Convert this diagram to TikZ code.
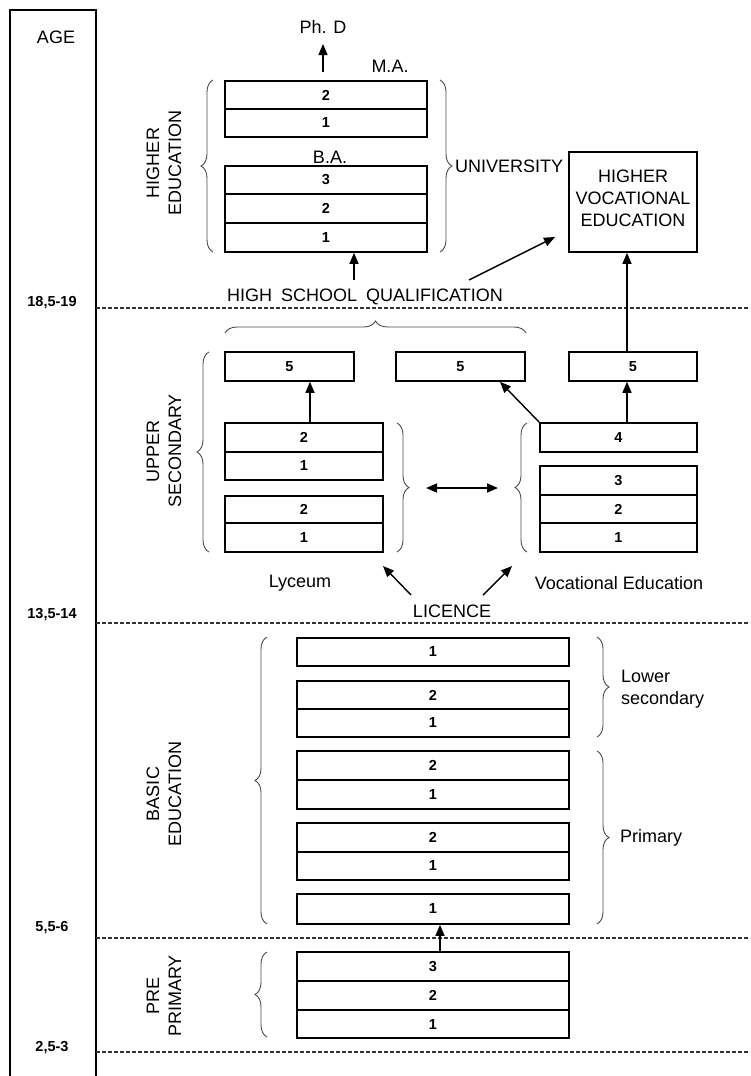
\documentclass[tikz,border=0pt]{standalone}
\usepackage{fontspec}
\setmainfont{Liberation Sans}
\usetikzlibrary{arrows.meta,decorations.pathreplacing}
\newcommand\mkcell[6]{%
  \node[cell, minimum width={(#4-#2)*1pt}, minimum height={(#5-#3)*1pt}] (#1) at ({(#2+#4)/2},{(#3+#5)/2}) {#6};}
\begin{document}
\begin{tikzpicture}[x=1pt,y=-1pt,
  cell/.style={draw,line width=1.6pt,inner sep=0pt,font=\fontsize{14.5}{14.5}\selectfont\bfseries},
  lbl/.style={font=\fontsize{18}{22}\selectfont,inner sep=0pt},
  rot/.style={lbl,rotate=90,align=center},
  age/.style={font=\fontsize{14.5}{14.5}\selectfont\bfseries,inner sep=0pt},
  brc/.style={draw=black!70,line width=0.9pt,decorate,decoration={brace,amplitude=12pt}},
  arr/.style={-{Triangle[length=11pt,width=9pt]},line width=1.4pt},
  darr/.style={{Triangle[length=11pt,width=9pt]}-{Triangle[length=11pt,width=9pt]},line width=1.6pt},
  dline/.style={dash pattern=on 4pt off 2pt,line width=1.1pt,black!80}
]
\useasboundingbox (0,0) rectangle (750,1076);
% age column
\coordinate (colbl) at (10,1076);
\coordinate (coltl) at (10,10);
\coordinate (coltr) at (96,10);
\coordinate (colbr) at (96,1076);
\draw[line width=1.5pt] (colbl) -- (coltl) -- (coltr) -- (colbr);
\node[lbl] (agel) at (56,37) {AGE};
\node[age] (a1) at (52,303) {18,5-19};
\node[age] (a2) at (52,615) {13,5-14};
\node[age] (a3) at (52,928) {5,5-6};
\node[age] (a4) at (52,1048) {2,5-3};
\coordinate (e1) at (750,308);
\coordinate (e2) at (750,623);
\coordinate (e3) at (750,938);
\coordinate (e4) at (750,1052);
\draw[dline] (96,308) -- (e1);
\draw[dline] (96,623) -- (e2);
\draw[dline] (96,938) -- (e3);
\draw[dline] (96,1052) -- (e4);

% higher education
\mkcell{ma2}{225}{81}{427}{109}{2}
\mkcell{ma1}{225}{109}{427}{137}{1}
\mkcell{ba3}{225}{166}{427}{194}{3}
\mkcell{ba2}{225}{194}{427}{223}{2}
\mkcell{ba1}{225}{223}{427}{252}{1}
\node[lbl] (phd) at (323,27) {Ph. D};
\node[lbl] (ma) at (390,66) {M.A.};
\node[lbl] (ba) at (330,157) {B.A.};
\coordinate (phs) at (323,72);
\draw[arr] (phs) -- (phd.south |- 0,44);
\draw[brc] (213,252) -- (213,80);
\draw[brc] (440,80) -- (440,252);
\node[rot] (he) at (164,163) {HIGHER\\EDUCATION};
\node[lbl,anchor=west] (univ) at (455,166) {UNIVERSITY};
\node[draw,line width=1.6pt,minimum width=128pt,minimum height=100pt,inner sep=0pt] (hve) at (633,202) {};
\node[lbl,align=center] (hvet) at (633,198) {HIGHER\\VOCATIONAL\\EDUCATION};
\node[lbl] (hsq) at (365,297) {HIGH\hspace{0.5em}SCHOOL\hspace{0.5em}QUALIFICATION};
\coordinate (hsqa) at (354,280);
\draw[arr] (hsqa) -- (hsqa |- ba1.south);
\coordinate (hsqb) at (469,280);
\coordinate (hsqc) at (555,237);
\draw[arr] (hsqb) -- (hsqc);

% upper secondary
\draw[brc] (225,333) -- (526,333);
\mkcell{fa}{225}{352}{354}{381}{5}
\mkcell{fb}{396}{352}{525}{381}{5}
\mkcell{fc}{569}{352}{697}{381}{5}
\draw[arr] (fc.north -| 627,0) -- (hve.south -| 627,0);
\mkcell{ly2u}{225}{423}{383}{452}{2}
\mkcell{ly1u}{225}{452}{383}{480}{1}
\mkcell{ly2l}{225}{496}{383}{523}{2}
\mkcell{ly1l}{225}{523}{383}{552}{1}
\mkcell{v4}{540}{423}{697}{452}{4}
\mkcell{v3}{540}{466}{697}{495}{3}
\mkcell{v2}{540}{495}{697}{523}{2}
\mkcell{v1}{540}{523}{697}{552}{1}
\draw[arr] (ly2u.north -| 310,0) -- (fa.south -| 310,0);
\draw[arr] (v4.north west) -- (fb.south -| 500,0);
\draw[arr] (v4.north -| 627,0) -- (fc.south -| 627,0);
\draw[brc] (209,552) -- (209,352);
\draw[brc] (397,423) -- (397,552);
\draw[brc] (527,552) -- (527,423);
\coordinate (dl) at (426,488);
\coordinate (dr) at (498,488);
\draw[darr] (dl) -- (dr);
\node[rot] (us) at (164,451) {UPPER\\SECONDARY};
\node[lbl] (lyc) at (300,583) {Lyceum};
\node[lbl] (voc) at (619,583) {Vocational Education};
\node[lbl] (lic) at (452,611) {LICENCE};
\coordinate (l1s) at (411,595);
\coordinate (l1e) at (383,566);
\coordinate (l2s) at (483,595);
\coordinate (l2e) at (512,566);
\draw[arr] (l1s) -- (l1e);
\draw[arr] (l2s) -- (l2e);

% basic education
\mkcell{b1a}{297}{638}{569}{666}{1}
\mkcell{b2b}{297}{681}{569}{709}{2}
\mkcell{b1b}{297}{709}{569}{737}{1}
\mkcell{b2c}{297}{751}{569}{780}{2}
\mkcell{b1c}{297}{780}{569}{809}{1}
\mkcell{b2d}{297}{823}{569}{852}{2}
\mkcell{b1d}{297}{852}{569}{880}{1}
\mkcell{b1e}{297}{894}{569}{924}{1}
\draw[brc] (267,924) -- (267,637);
\draw[brc] (597,637) -- (597,737);
\draw[brc] (597,751) -- (597,924);
\node[rot] (be) at (164,794) {BASIC\\EDUCATION};
\node[lbl,anchor=west,align=left] (lsec) at (621,689) {Lower\\secondary};
\node[lbl,anchor=west] (prim) at (620,838) {Primary};

% pre primary
\mkcell{p3}{297}{952}{569}{981}{3}
\mkcell{p2}{297}{981}{569}{1010}{2}
\mkcell{p1}{297}{1010}{569}{1038}{1}
\draw[arr] (p3.north -| 440,0) -- (b1e.south -| 440,0);
\draw[brc] (267,1037) -- (267,952);
\node[rot] (pp) at (164,996) {PRE\\PRIMARY};
\end{tikzpicture}
\end{document}
